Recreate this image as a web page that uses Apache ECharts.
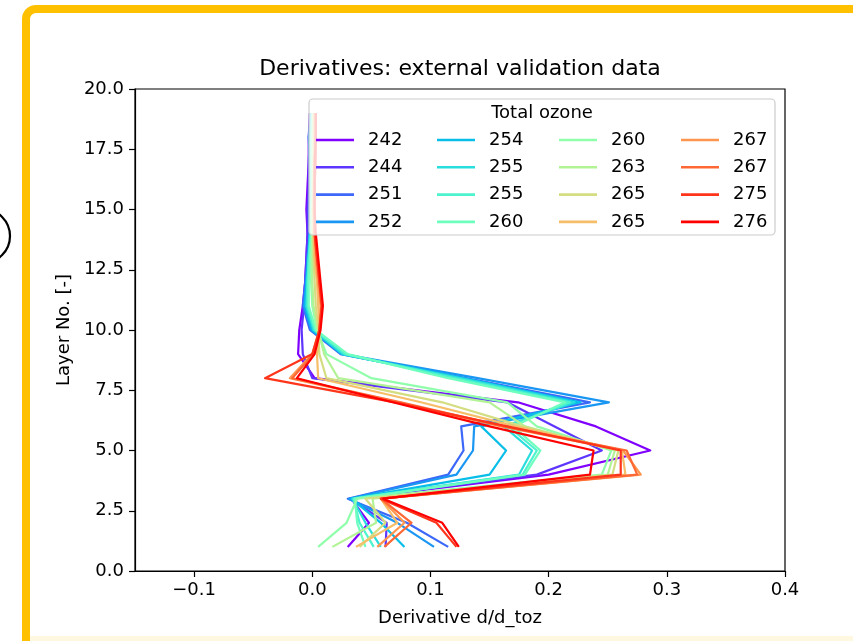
<!DOCTYPE html>
<html lang="en">
<head>
<meta charset="UTF-8">
<title>Derivatives: external validation data</title>
<script src="https://cdn.jsdelivr.net/npm/echarts@6.0.0/dist/echarts.min.js"></script>
<style>
    html, body { margin: 0; padding: 0; background: #fff; }
    #chart { width: 853px; height: 641px; }
</style>
</head>
<body>
<div id="chart"></div>
<script type="text/javascript">
    // layer numbers (y) and derivative values per total ozone case (x)
    var layers = [1, 2, 3, 4, 5, 6, 7, 8, 9, 10, 11, 12, 13, 14, 15, 16, 17, 18, 19];
    var ozoneLabels = ['242', '244', '251', '252', '254', '255', '255', '260',
                       '260', '263', '265', '265', '267', '267', '275', '276'];
    var xTicks = [-0.1, 0, 0.1, 0.2, 0.3, 0.4];

    var d242  = [0.030, 0.048, 0.033, 0.200, 0.286, 0.240, 0.174, 0.002, -0.012, -0.011, -0.008, -0.006, -0.005, -0.004, -0.005, -0.004, -0.003, -0.003, -0.002];
    var d244  = [0.062, 0.063, 0.032, 0.190, 0.245, 0.205, 0.165, 0.000, -0.008, -0.009, -0.007, -0.006, -0.005, -0.004, -0.004, -0.003, -0.003, -0.002, -0.002];
    var d251  = [0.115, 0.080, 0.030, 0.115, 0.128, 0.126, 0.235, 0.130, 0.024, -0.002, -0.008, -0.006, -0.004, -0.002, -0.003, -0.002, -0.002, -0.002, -0.001];
    var d252  = [0.103, 0.072, 0.031, 0.122, 0.136, 0.137, 0.251, 0.140, 0.026, -0.001, -0.007, -0.005, -0.004, -0.002, -0.002, -0.002, -0.002, -0.003, -0.001];
    var d254  = [0.078, 0.058, 0.033, 0.150, 0.164, 0.143, 0.227, 0.128, 0.025, 0.000, -0.006, -0.005, -0.003, -0.002, -0.002, -0.001, -0.002, -0.002, -0.001];
    var d255a = [0.058, 0.045, 0.034, 0.175, 0.186, 0.162, 0.222, 0.125, 0.026, 0.001, -0.005, -0.004, -0.003, -0.002, -0.001, -0.001, -0.001, -0.001, 0.000];
    var d255b = [0.052, 0.040, 0.035, 0.178, 0.190, 0.166, 0.218, 0.120, 0.028, 0.002, -0.004, -0.004, -0.003, -0.001, -0.001, -0.001, -0.001, -0.001, 0.000];
    var d260a = [0.045, 0.038, 0.036, 0.180, 0.193, 0.170, 0.214, 0.115, 0.030, 0.003, -0.003, -0.003, -0.002, -0.001, -0.001, 0.000, 0.000, 0.000, 0.000];
    var d260b = [0.005, 0.029, 0.038, 0.245, 0.253, 0.190, 0.165, 0.050, 0.012, 0.004, 0.000, -0.001, -0.001, 0.000, 0.000, 0.000, 0.000, 0.000, 0.001];
    var d263  = [0.017, 0.054, 0.051, 0.250, 0.256, 0.180, 0.150, 0.022, 0.010, 0.005, 0.001, 0.000, 0.000, 0.000, 0.000, 0.001, 0.001, 0.001, 0.001];
    var d265a = [0.040, 0.062, 0.045, 0.254, 0.259, 0.178, 0.110, 0.012, 0.006, 0.005, 0.003, 0.002, 0.001, 0.001, 0.001, 0.001, 0.001, 0.001, 0.001];
    var d265b = [0.037, 0.072, 0.058, 0.265, 0.262, 0.172, 0.092, 0.005, 0.004, 0.006, 0.005, 0.004, 0.002, 0.001, 0.001, 0.001, 0.002, 0.002, 0.002];
    var d267a = [0.055, 0.078, 0.058, 0.278, 0.263, 0.160, 0.072, -0.019, 0.000, 0.006, 0.007, 0.005, 0.003, 0.002, 0.001, 0.002, 0.002, 0.002, 0.002];
    var d267b = [0.061, 0.084, 0.058, 0.275, 0.266, 0.162, 0.075, -0.017, 0.001, 0.006, 0.008, 0.006, 0.004, 0.002, 0.002, 0.002, 0.002, 0.003, 0.003];
    var d275  = [0.122, 0.105, 0.058, 0.261, 0.261, 0.165, 0.070, -0.040, 0.000, 0.006, 0.008, 0.006, 0.004, 0.002, 0.002, 0.002, 0.003, 0.003, 0.003];
    var d276  = [0.124, 0.110, 0.060, 0.235, 0.238, 0.150, 0.068, -0.013, 0.002, 0.007, 0.009, 0.007, 0.005, 0.003, 0.002, 0.002, 0.002, 0.003, 0.003];

    var allCases = [d242, d244, d251, d252, d254, d255a, d255b, d260a,
                    d260b, d263, d265a, d265b, d267a, d267b, d275, d276];

    // matplotlib "rainbow" colormap, 16 steps
    var lineColors = ['#8000ff', '#5e35fe', '#3c68f9', '#1a96f3', '#08bee9', '#2adddd', '#4df3ce', '#6efebe',
                      '#90feab', '#b2f396', '#d4dd80', '#f6be68', '#ff964f', '#ff6835', '#ff351b', '#ff0000'];

    var FONT = 'DejaVu Sans';

    var series = [];
    for (var i = 0; i < allCases.length; i++) {
        var pts = [];
        for (var j = 0; j < layers.length; j++) {
            pts.push([allCases[i][j], layers[j]]);
        }
        series.push({
            name: ozoneLabels[i] + '_' + i,
            type: 'line',
            data: pts,
            symbol: 'none',
            showSymbol: false,
            color: lineColors[i],
            lineStyle: { width: 2.2, color: lineColors[i], join: 'round' },
            emphasis: { disabled: true },
            z: 2
        });
    }

    // legend: 4 columns, filled column by column
    var legendLeft = [316, 437, 559, 681];
    var legends = [];
    for (var c = 0; c < 4; c++) {
        var names = [];
        for (var r = 0; r < 4; r++) {
            var k = c * 4 + r;
            names.push(ozoneLabels[k] + '_' + k);
        }
        legends.push({
            data: names,
            orient: 'vertical',
            left: legendLeft[c],
            top: 131,
            padding: 0,
            itemGap: 9.3,
            itemWidth: 38,
            itemHeight: 2.6,
            icon: 'rect',
            selectedMode: false,
            z: 4,
            formatter: function (name) { return name.split('_')[0]; },
            textStyle: { fontFamily: FONT, fontSize: 18, color: '#000', lineHeight: 18, padding: [0, 0, 0, 9] }
        });
    }

    var myChart = echarts.init(document.getElementById('chart'), null, { renderer: 'canvas' });
    var option = {
        backgroundColor: '#fff',
        animation: false,
        title: {
            text: 'Derivatives: external validation data',
            left: 460,
            top: 58,
            padding: 0,
            textAlign: 'center',
            textStyle: { fontFamily: FONT, fontSize: 22, fontWeight: 'normal', color: '#000' }
        },
        legend: legends,
        grid: {
            left: 135,
            right: 68,
            top: 89,
            bottom: 70,
            show: true,
            borderColor: '#000',
            borderWidth: 1.2,
            backgroundColor: 'transparent'
        },
        xAxis: {
            type: 'value',
            min: -0.15,
            max: 0.4,
            name: 'Derivative d/d_toz',
            nameLocation: 'middle',
            nameGap: 38,
            nameTextStyle: { fontFamily: FONT, fontSize: 18, color: '#000' },
            axisLine: { show: true, onZero: false, lineStyle: { color: '#000', width: 1.2 } },
            axisTick: { show: true, length: 6, customValues: xTicks, lineStyle: { color: '#000', width: 1.2 } },
            axisLabel: {
                customValues: xTicks,
                margin: 10,
                fontFamily: FONT,
                fontSize: 18,
                color: '#000',
                formatter: function (v) {
                    var s = Math.abs(v).toFixed(1);
                    return v < -1e-9 ? '\u2212' + s : s;
                }
            },
            splitLine: { show: false }
        },
        yAxis: {
            type: 'value',
            min: 0,
            max: 20,
            interval: 2.5,
            name: 'Layer No. [-]',
            nameLocation: 'middle',
            nameGap: 60,
            nameTextStyle: { fontFamily: FONT, fontSize: 18, color: '#000' },
            axisLine: { show: true, onZero: false, lineStyle: { color: '#000', width: 1.2 } },
            axisTick: { show: true, length: 6, lineStyle: { color: '#000', width: 1.2 } },
            axisLabel: {
                margin: 11,
                fontFamily: FONT,
                fontSize: 18,
                color: '#000',
                formatter: function (v) { return v.toFixed(1); }
            },
            splitLine: { show: false }
        },
        graphic: [
            // legend frame, semi-transparent like matplotlib
            {
                type: 'rect',
                z: 3,
                shape: { x: 309, y: 99, width: 466, height: 136, r: 4 },
                style: { fill: 'rgba(255,255,255,0.8)', stroke: '#cccccc', lineWidth: 1.2 }
            },
            {
                type: 'text',
                z: 5,
                x: 542,
                y: 113,
                style: { text: 'Total ozone', font: '18px "DejaVu Sans"', fill: '#000', align: 'center', verticalAlign: 'middle' }
            },
            // slide frame around the picture
            {
                type: 'rect',
                z: 10,
                shape: { x: 26, y: 9, width: 900, height: 700, r: 10 },
                style: { fill: 'none', stroke: '#FFC000', lineWidth: 8 }
            },
            {
                type: 'rect',
                z: 9,
                shape: { x: 30, y: 636, width: 823, height: 5 },
                style: { fill: '#fff8e1' }
            },
            {
                type: 'circle',
                z: 10,
                shape: { cx: -17, cy: 236, r: 27 },
                style: { fill: 'none', stroke: '#000', lineWidth: 2.2 }
            }
        ],
        series: series
    };
    myChart.setOption(option);
</script>
</body>
</html>
